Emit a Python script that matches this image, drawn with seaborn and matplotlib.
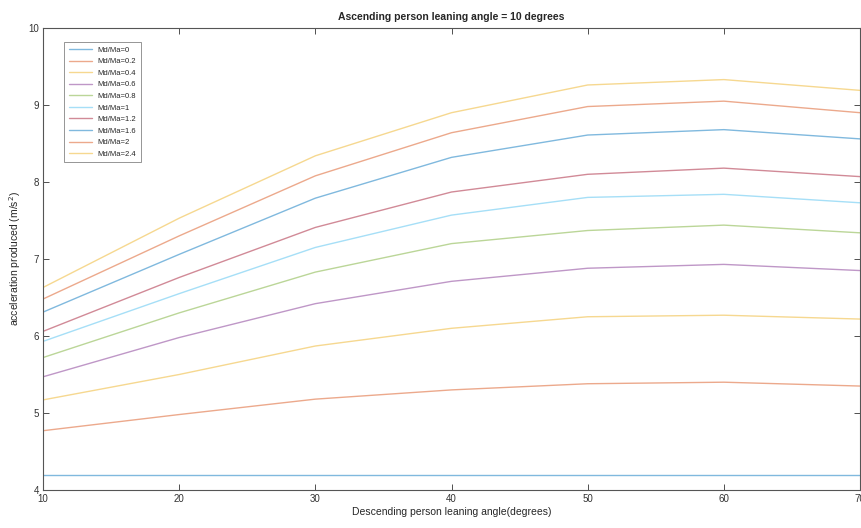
import numpy as np
import pandas as pd
import seaborn as sns
import matplotlib.pyplot as plt
from matplotlib.colors import to_rgb

# Data
angles = [10, 20, 30, 40, 50, 60, 70]
ratio_labels = ['Md/Ma=0', 'Md/Ma=0.2', 'Md/Ma=0.4', 'Md/Ma=0.6', 'Md/Ma=0.8',
                'Md/Ma=1', 'Md/Ma=1.2', 'Md/Ma=1.6', 'Md/Ma=2', 'Md/Ma=2.4']
acc_0 = [4.2, 4.2, 4.2, 4.2, 4.2, 4.2, 4.2]
acc_02 = [4.77, 4.98, 5.18, 5.30, 5.38, 5.40, 5.35]
acc_04 = [5.17, 5.50, 5.87, 6.10, 6.25, 6.27, 6.22]
acc_06 = [5.47, 5.98, 6.42, 6.71, 6.88, 6.93, 6.85]
acc_08 = [5.72, 6.30, 6.83, 7.20, 7.37, 7.44, 7.34]
acc_1 = [5.93, 6.55, 7.15, 7.57, 7.80, 7.84, 7.73]
acc_12 = [6.06, 6.76, 7.41, 7.87, 8.10, 8.18, 8.07]
acc_16 = [6.31, 7.06, 7.79, 8.32, 8.61, 8.68, 8.56]
acc_2 = [6.48, 7.30, 8.08, 8.64, 8.98, 9.05, 8.90]
acc_24 = [6.63, 7.53, 8.34, 8.90, 9.26, 9.33, 9.19]

all_series = [acc_0, acc_02, acc_04, acc_06, acc_08, acc_1, acc_12, acc_16, acc_2, acc_24]

# long format table for seaborn
rows = []
for label, vals in zip(ratio_labels, all_series):
    for a, v in zip(angles, vals):
        rows.append({'angle': a, 'acc': v, 'ratio': label})
df = pd.DataFrame(rows)

# MATLAB default colour order, washed out like the scanned figure
matlab_cols = ['#0072BD', '#D95319', '#EDB120', '#7E2F8E', '#77AC30',
               '#4DBEEE', '#A2142F', '#0072BD', '#D95319', '#EDB120']
fade = 0.5
palette = [tuple(c + (1 - c) * fade for c in to_rgb(col)) for col in matlab_cols]

sns.set_style('white')
plt.rcParams['font.family'] = ['Liberation Sans', 'DejaVu Sans']
plt.rcParams['xtick.bottom'] = True
plt.rcParams['ytick.left'] = True

fig = plt.figure(figsize=(8.61, 5.28), dpi=100)
ax = fig.add_axes([43 / 861, 1 - 490 / 528, 817 / 861, 462 / 528])

sns.lineplot(data=df, x='angle', y='acc', hue='ratio', palette=palette,
             linewidth=1.0, ax=ax, hue_order=ratio_labels)

ax.set_xlim(10, 70)
ax.set_ylim(4, 10)
ax.set_xticks(angles)
ax.set_yticks([4, 5, 6, 7, 8, 9, 10])
ax.xaxis.set_ticks_position('both')
ax.yaxis.set_ticks_position('both')
ax.tick_params(direction='in', length=4, width=0.6, labelsize=7,
               colors='#333333', pad=3)
for s in ax.spines.values():
    s.set_color('#555555')
    s.set_linewidth(0.8)

ax.set_title('Ascending person leaning angle = 10 degrees', fontsize=7.5,
             fontweight='bold', pad=6)
ax.set_xlabel('Descending person leaning angle(degrees)', fontsize=7.5, labelpad=2)
ax.set_ylabel('acceleration produced (m/s$^2$)', fontsize=7.5, labelpad=4)

leg = ax.legend(loc='upper left', bbox_to_anchor=(0.026, 0.97), fontsize=5.5,
                frameon=True, fancybox=False, edgecolor='#666666',
                handlelength=3.0, labelspacing=0.55, borderpad=0.6,
                borderaxespad=0)
leg.get_frame().set_linewidth(0.6)

fig.savefig('out.png', dpi=100)
